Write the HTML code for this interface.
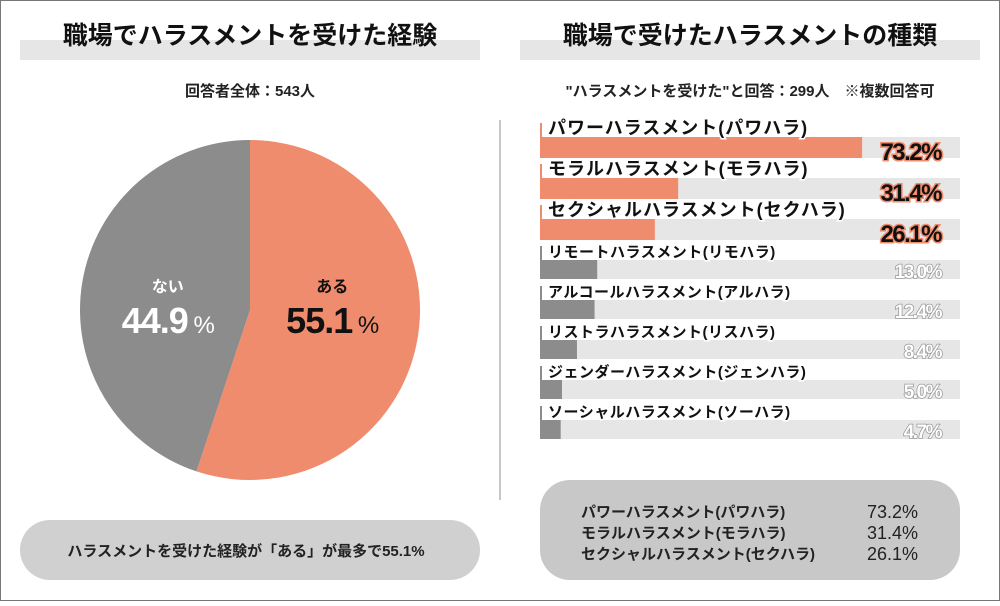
<!DOCTYPE html>
<html><head><meta charset="utf-8"><style>
body{margin:0;background:#fff}
svg text{font-family:"Liberation Sans","Noto Sans CJK JP",sans-serif}
</style></head><body>
<svg width="1000" height="601" viewBox="0 0 1000 601">
<rect x="0.5" y="0.5" width="999" height="600" fill="#fff" stroke="#777"/>
<rect x="20" y="40" width="460" height="20" fill="#e6e6e6"/>
<text x="250" y="44" text-anchor="middle" font-size="25" font-weight="bold" fill="#111">職場でハラスメントを受けた経験</text>
<text x="250" y="96" text-anchor="middle" font-size="15" font-weight="bold" fill="#222">回答者全体：543人</text>
<rect x="520" y="40" width="460" height="20" fill="#e6e6e6"/>
<text x="750" y="44" text-anchor="middle" font-size="25" font-weight="bold" fill="#111">職場で受けたハラスメントの種類</text>
<text x="750" y="96" text-anchor="middle" font-size="15" font-weight="bold" fill="#222">"ハラスメントを受けた"と回答：299人　※複数回答可</text>
<line x1="500" y1="120" x2="500" y2="500" stroke="#c8c8c8" stroke-width="2"/>
<g id="pie"></g>
<g id="bars"></g>
<rect x="20" y="520" width="460" height="60" rx="30" fill="#d0d0d0"/>
<text x="246" y="556" text-anchor="middle" font-size="15" font-weight="bold" fill="#222">ハラスメントを受けた経験が「ある」が最多で55.1%</text>
<rect x="540" y="480" width="420" height="100" rx="30" fill="#c8c8c8"/>
<g font-size="15" font-weight="bold" fill="#222">
<text x="581" y="517">パワーハラスメント(パワハラ)</text><text x="918" y="518" text-anchor="end" font-weight="normal" font-size="18">73.2%</text>
<text x="581" y="538">モラルハラスメント(モラハラ)</text><text x="918" y="539" text-anchor="end" font-weight="normal" font-size="18">31.4%</text>
<text x="581" y="559">セクシャルハラスメント(セクハラ)</text><text x="918" y="560" text-anchor="end" font-weight="normal" font-size="18">26.1%</text>
</g>
</svg>
<script>
const pieLabels=["ある","ない"];
const pieValues=[55.1,44.9];
const pieColors=["#f08c6e","#8c8c8c"];
const barCats=["パワーハラスメント(パワハラ)","モラルハラスメント(モラハラ)","セクシャルハラスメント(セクハラ)","リモートハラスメント(リモハラ)","アルコールハラスメント(アルハラ)","リストラハラスメント(リスハラ)","ジェンダーハラスメント(ジェンハラ)","ソーシャルハラスメント(ソーハラ)"];
const barValues=[73.2,31.4,26.1,13.0,12.4,8.4,5.0,4.7];
const NS="http://www.w3.org/2000/svg";
function mk(tag,attrs,parent){const e=document.createElementNS(NS,tag);for(const k in attrs)e.setAttribute(k,attrs[k]);parent.appendChild(e);return e;}
const pie=document.getElementById('pie');
const cx=250,cy=310,r=170;
const total=pieValues.reduce((a,b)=>a+b,0);
let ang=0;
pieValues.forEach((v,i)=>{
 const a0=ang,a1=ang+v/total*2*Math.PI;ang=a1;
 const x0=cx+r*Math.sin(a0),y0=cy-r*Math.cos(a0),x1=cx+r*Math.sin(a1),y1=cy-r*Math.cos(a1);
 const p=mk('path',{d:`M${cx},${cy}L${x0},${y0}A${r},${r} 0 ${a1-a0>Math.PI?1:0} 1 ${x1},${y1}Z`,fill:pieColors[i]},pie);
 
 
 const mid=(a0+a1)/2,lx=cx+r*0.49*Math.sin(mid);
 const col=i===0?'#111':'#fff';
 const t1=mk('text',{x:lx,y:292,'text-anchor':'middle','font-size':16,'font-weight':'bold',fill:col},pie);
 t1.textContent=pieLabels[i];
 
 
 const t2=mk('text',{x:lx,y:333,'text-anchor':'middle','font-size':36,'font-weight':'bold',fill:col,'letter-spacing':'-1'},pie);
 t2.innerHTML=v.toFixed(1)+'<tspan font-size="24" font-weight="normal"> %</tspan>';
 
 
});
const bars=document.getElementById('bars');
const x0=540,scale=4.4,trackW=420;
barCats.forEach((c,i)=>{
 const top=i<3?137+41*i:260+40*(i-3);
 const hi=i<3;
 const tr=mk('rect',{x:x0,y:top,width:trackW,height:hi?21:19,fill:'#e6e6e6'},bars);
 
 
 const b=mk('rect',{x:x0,y:top,width:barValues[i]*scale,height:hi?21:19,fill:hi?'#f08c6e':'#8c8c8c'},bars);
 
 
 const tick=mk('rect',{x:x0,y:top-14,width:2,height:14,fill:hi?'#f08c6e':'#8c8c8c'},bars);
 
 
 const lab=mk('text',{x:x0+8,y:top-3,'font-size':hi?18:15,'font-weight':'bold',fill:'#111',stroke:'#fff','stroke-width':3,'paint-order':'stroke','letter-spacing':hi?'1':'0.5'},bars);
 lab.textContent=c;
 
 
 const val=mk('text',{x:941,y:top+(hi?23:18),'text-anchor':'end','font-size':hi?24:19,'font-weight':'bold',fill:hi?'#111':'#fff',stroke:hi?'#f08c6e':'#999','stroke-width':hi?3:1.5,'paint-order':'stroke','letter-spacing':'-1.5'},bars);
 val.textContent=barValues[i].toFixed(1)+'%';
 
 
});
</script>
</body></html>
